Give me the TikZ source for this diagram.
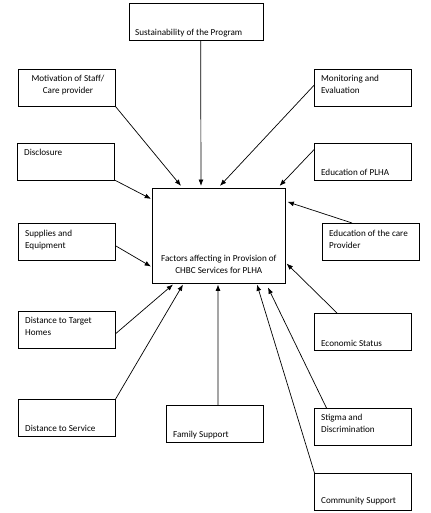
\documentclass[tikz,border=0pt]{standalone}
\usepackage{fontspec}
\setmainfont{Carlito}
\usetikzlibrary{calc,arrows.meta}

\begin{document}
\begin{tikzpicture}[x=0.05cm,y=-0.05cm,
  factor/.style={draw,line width=0.9pt,minimum width=4.85cm,minimum height=1.85cm,inner sep=0},
  txt/.style={inner sep=0,font=\fontsize{13}{17}\selectfont},
  link/.style={-{Latex[length=9pt,width=7pt]},line width=1pt}]
\useasboundingbox (0,0) rectangle (431,513);

% Central box
\node[draw,line width=0.9pt,minimum width=6.65cm,minimum height=4.75cm,inner sep=0] (central) at (218.8,235.7) {};
\node[txt,align=center,anchor=base] (centralT) at (218.8,273) {Factors affecting in Provision of\\CHBC Services for PLHA};

% Top and left-hand factors
\node[factor,minimum width=6.7cm] (sust) at (196,21.8) {};
\node[txt,anchor=base west] (sustT) at (135,35) {Sustainability of the Program};
\node[factor] (motiv) at (66.8,87.8) {};
\node[txt,align=center,anchor=base] (motivT) at (68,93) {Motivation of Staff/\\Care provider};
\node[factor] (discl) at (66.3,161.5) {};
\node[txt,anchor=base west] (disclT) at (24,155) {Disclosure};
\node[factor] (suppl) at (66.8,241.8) {};
\node[txt,align=left,anchor=base west] (supplT) at (25,248) {Supplies and\\Equipment};
\node[factor] (target) at (66.8,329.7) {};
\node[txt,align=left,anchor=base west] (targetT) at (25,335) {Distance to Target\\Homes};
\node[factor] (service) at (66.8,417.8) {};
\node[txt,anchor=base west] (serviceT) at (25,431) {Distance to Service};
\node[factor] (family) at (214.8,424.2) {};
\node[txt,anchor=base west] (familyT) at (173,437) {Family Support};

% Right-hand factors
\node[factor] (monit) at (363.3,87.8) {};
\node[txt,align=left,anchor=base west] (monitT) at (321,93) {Monitoring and\\Evaluation};
\node[factor] (eduplha) at (362.8,161.5) {};
\node[txt,anchor=base west] (eduplhaT) at (321,175) {Education of PLHA};
\node[factor] (educare) at (370.8,241.8) {};
\node[txt,align=left,anchor=base west] (educareT) at (329,248) {Education of the care\\Provider};
\node[factor] (econ) at (363.3,332.3) {};
\node[txt,anchor=base west] (econT) at (321,346) {Economic Status};
\node[factor] (stigma) at (363.3,426.8) {};
\node[txt,align=left,anchor=base west] (stigmaT) at (321,432) {Stigma and\\Discrimination};
\node[factor] (commun) at (363.3,491.8) {};
\node[txt,anchor=base west] (communT) at (321,503) {Community Support};

% Arrows into the central box
\draw[link] ($(sust.south west)+(72,0)$) -- ($(central.north west)+(49,-2)$);
\draw[link] (motiv.south east) -- ($(central.north west)+(29,-2)$);
\draw[link] ($(monit.west)+(0,-3)$) -- ($(central.north west)+(68,-2)$);
\draw[link] ($(eduplha.north west)+(0,7)$) -- ($(central.north east)+(-6,-2)$);
\draw[link] (discl.south east) -- ($(central.north west)+(-1,11)$);
\draw[link] ($(educare.north west)+(30,0)$) -- ($(central.north east)+(2,14)$);
\draw[link] ($(suppl.east)+(0,4)$) -- ($(central.south west)+(-1,-17)$);
\draw[link] ($(econ.north west)+(23,0)$) -- ($(central.south east)+(1,-20)$);
\draw[link] ($(target.east)+(0,4)$) -- ($(central.south west)+(21,1)$);
\draw[link] (service.north east) -- ($(central.south west)+(31,1)$);
\draw[link] ($(family.north west)+(52,0)$) -- ($(central.south west)+(66,1)$);
\draw[link] (commun.north west) -- ($(central.south west)+(105,1)$);
\draw[link] ($(stigma.north west)+(12,0)$) -- ($(central.south west)+(116,4)$);
\end{tikzpicture}
\end{document}
